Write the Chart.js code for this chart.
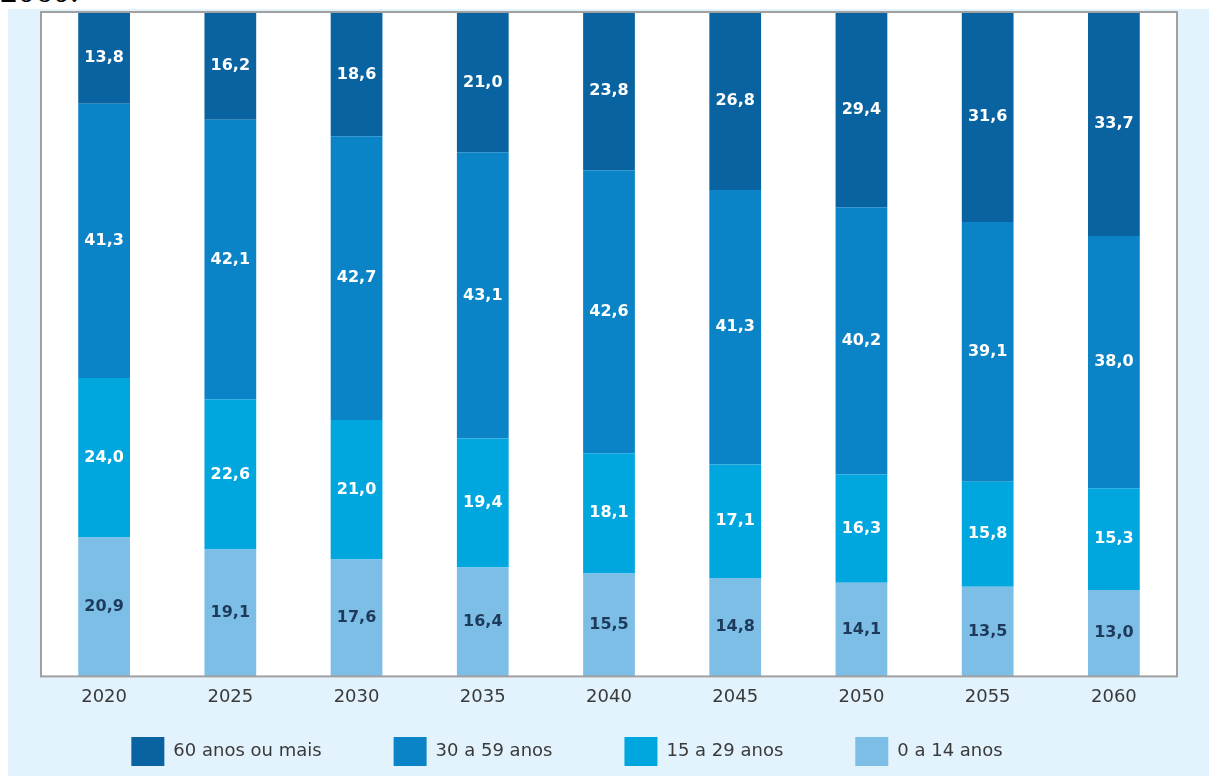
<!DOCTYPE html>
<html>
<head>
<meta charset="utf-8">
<script src="https://cdn.jsdelivr.net/npm/chart.js@4/dist/chart.umd.min.js"></script>
<style>
  body { margin: 0; background: #ffffff; width: 1209px; height: 776px; overflow: hidden; position: relative; }
  .caption { position: absolute; left: 0; top: -27px; font-family: "Liberation Serif", serif; font-size: 35px; color: #000; line-height: 35px; }
  .panel { position: absolute; left: 8px; top: 9px; width: 1201px; height: 767px; background: #e3f3fd; }
</style>
</head>
<body>
<div class="caption">2060.</div>
<div class="panel"><canvas id="chart" width="1201" height="767"></canvas></div>
<script>
// anos da projeção
const years = ["2020", "2025", "2030", "2035", "2040", "2045", "2050", "2055", "2060"];

// participação (%) de cada faixa etária
const age0to14 = [20.9, 19.1, 17.6, 16.4, 15.5, 14.8, 14.1, 13.5, 13.0];
const age15to29 = [24.0, 22.6, 21.0, 19.4, 18.1, 17.1, 16.3, 15.8, 15.3];
const age30to59 = [41.3, 42.1, 42.7, 43.1, 42.6, 41.3, 40.2, 39.1, 38.0];
const age60plus = [13.8, 16.2, 18.6, 21.0, 23.8, 26.8, 29.4, 31.6, 33.7];

// de baixo para cima na pilha
const seriesNames = ["0 a 14 anos", "15 a 29 anos", "30 a 59 anos", "60 anos ou mais"];
const seriesColors = ["#7dbee6", "#00a6de", "#0a84c6", "#0863a0"];
const labelColors = ["#1e3a5a", "#ffffff", "#ffffff", "#ffffff"];

const fontFamily = "'DejaVu Sans', sans-serif";

// fundo branco e moldura cinza da área do gráfico
const plotFrame = {
  id: "plotFrame",
  beforeDatasetsDraw(chart) {
    const { ctx, chartArea } = chart;
    ctx.save();
    ctx.fillStyle = "#ffffff";
    ctx.fillRect(chartArea.left, chartArea.top, chartArea.width, chartArea.height);
    ctx.restore();
  },
  afterDatasetsDraw(chart) {
    const { ctx, chartArea } = chart;
    ctx.save();
    ctx.strokeStyle = "#a0a0a0";
    ctx.lineWidth = 2;
    ctx.strokeRect(chartArea.left, chartArea.top, chartArea.width, chartArea.height);
    ctx.restore();
  },
};

// valores escritos no meio de cada segmento
const segmentLabels = {
  id: "segmentLabels",
  afterDatasetsDraw(chart) {
    const { ctx } = chart;
    ctx.save();
    ctx.font = "bold 16px " + fontFamily;
    ctx.textAlign = "center";
    ctx.textBaseline = "middle";
    chart.data.datasets.forEach((ds, i) => {
      const meta = chart.getDatasetMeta(i);
      ctx.fillStyle = labelColors[i];
      meta.data.forEach((bar, j) => {
        const { x, y, base } = bar.getProps(["x", "y", "base"], true);
        const text = ds.data[j].toFixed(1).replace(".", ",");
        ctx.fillText(text, x, (y + base) / 2);
      });
    });
    ctx.restore();
  },
};

// legenda: espaçamento largo entre itens mas altura curta,
// e um pouco à esquerda do centro, como no original
const legendTweak = {
  id: "legendTweak",
  afterInit(chart) {
    const legend = chart.legend;
    const origFit = legend.fit;
    legend.fit = function () {
      origFit.call(this);
      this.height = 58;
    };
  },
  afterLayout(chart) {
    const legend = chart.legend;
    legend.left -= 42;
    legend.right -= 42;
    legend.top -= 53;
  },
};

const datasets = [age0to14, age15to29, age30to59, age60plus].map((values, i) => ({
  label: seriesNames[i],
  data: values,
  backgroundColor: seriesColors[i],
  borderWidth: 0,
  barPercentage: 0.41,
  categoryPercentage: 1.0,
}));

new Chart(document.getElementById("chart"), {
  type: "bar",
  data: {
    labels: years,
    datasets: datasets,
  },
  options: {
    responsive: false,
    animation: false,
    layout: { padding: { left: 33, right: 32, top: 3, bottom: 0 } },
    scales: {
      x: {
        stacked: true,
        grid: { display: false, drawTicks: false },
        border: { display: false },
        ticks: { color: "#3a3a3a", padding: 10, font: { family: fontFamily, size: 18 } },
      },
      y: {
        stacked: true,
        display: false,
        min: 0,
        max: 100,
      },
    },
    plugins: {
      legend: {
        position: "bottom",
        reverse: true,
        labels: {
          boxWidth: 33,
          boxHeight: 29,
          padding: 72,
          color: "#3a3a3a",
          font: { family: fontFamily, size: 18 },
        },
      },
      tooltip: { enabled: false },
    },
  },
  plugins: [plotFrame, segmentLabels, legendTweak],
});
</script>
</body>
</html>
